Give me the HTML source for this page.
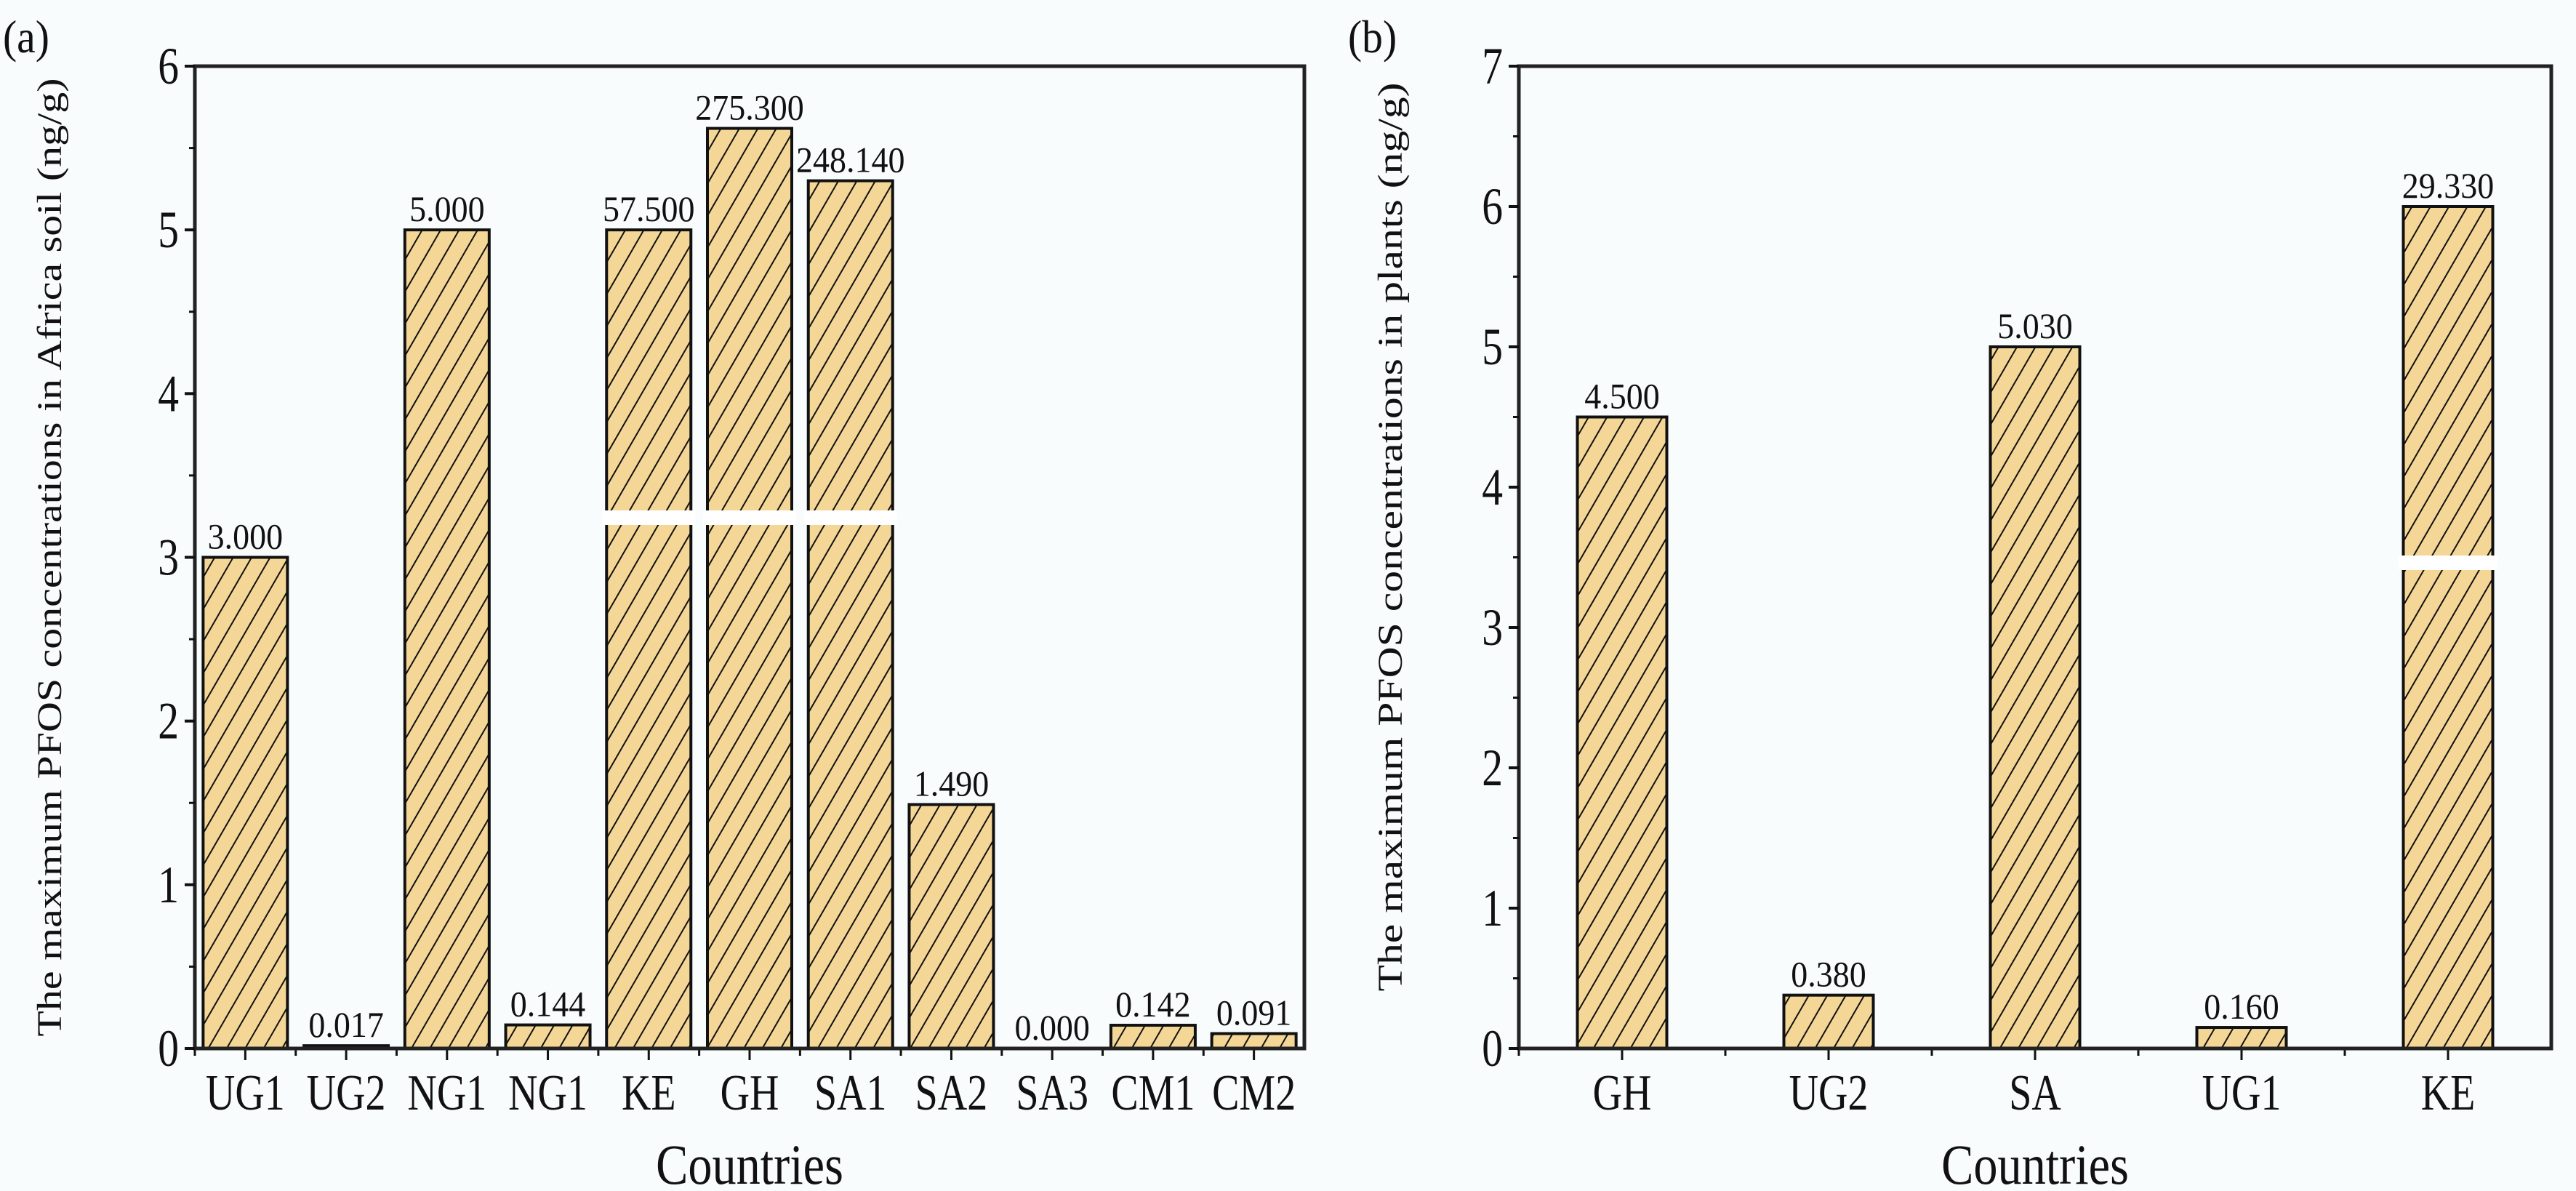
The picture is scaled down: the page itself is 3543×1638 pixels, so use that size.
<!DOCTYPE html>
<html><head><meta charset="utf-8">
<style>
html,body{margin:0;padding:0;background:#f8fcfd;}
svg{display:block;font-family:"Liberation Serif",serif;}
</style></head>
<body>
<svg id="chart" width="3543" height="1638" viewBox="0 0 3543 1638" xmlns="http://www.w3.org/2000/svg">
<defs>
<pattern id="hatch" patternUnits="userSpaceOnUse" width="22" height="22" patternTransform="rotate(30)">
<rect width="22" height="22" fill="#f4d796"/>
<line x1="0" y1="0" x2="0" y2="22" stroke="#111" stroke-width="4"/>
</pattern>
</defs>
<rect x="0" y="0" width="3543" height="1638" fill="#f8fcfd"/>
<g id="root"></g>
</svg>
<script>
// Panel (a) data
const catsA = ["UG1","UG2","NG1","NG1","KE","GH","SA1","SA2","SA3","CM1","CM2"];
const valsA = [3.0, 0.017, 5.0, 0.144, 5.0, 5.62, 5.3, 1.49, 0.0, 0.142, 0.091];
const labelsA = ["3.000","0.017","5.000","0.144","57.500","275.300","248.140","1.490","0.000","0.142","0.091"];
const breaksA = [false,false,false,false,true,true,true,false,false,false,false];
const ticksA = [0,1,2,3,4,5,6];
// Panel (b) data
const catsB = ["GH","UG2","SA","UG1","KE"];
const valsB = [4.5, 0.38, 5.0, 0.15, 6.0];
const labelsB = ["4.500","0.380","5.030","0.160","29.330"];
const breaksB = [false,false,false,false,true];
const ticksB = [0,1,2,3,4,5,6,7];

const NS="http://www.w3.org/2000/svg";
const root=document.getElementById('root');
function mk(tag,attrs,parent){const e=document.createElementNS(NS,tag);for(const k in attrs)e.setAttribute(k,attrs[k]);(parent||root).appendChild(e);return e;}
function txt(parent,x,y,size,anchor,sx,content){
  const t=mk('text',{x:0,y:0,'font-size':size,'text-anchor':anchor,fill:'#111',transform:`translate(${x},${y}) scale(${sx},1)`},parent);
  t.textContent=content;return t;
}

function panel(o){
  const g=mk('g',{});
  
  
  const L=o.left,R=o.right,T=91,B=1442;
  const ymax=o.ticks[o.ticks.length-1];
  const y=v=>B-(v/ymax)*(B-T);
  const n=o.cats.length, step=(R-L)/n;
  const xc=i=>L+step*(i+0.5);
  o.vals.forEach((v,i)=>{
    const bx=xc(i)-o.bw/2, by=y(v), h=B-by;
    const r=mk('rect',{x:bx,y:by,width:o.bw,height:Math.max(h,0),fill:'url(#hatch)',stroke:'#111','stroke-width':4},g);
    
    
    if(o.breaks[i]){
      const br=mk('rect',{x:bx-6,y:o.breakY,width:o.bw+12,height:20,fill:'#ffffff'},g);
      
      
    }
    const t=txt(g,xc(i),by-12,50,'middle',0.92,o.labels[i]);
    
    
    const c=txt(g,xc(i),1526,70,'middle',0.8,o.cats[i]);
    
    
    mk('line',{x1:xc(i),y1:B,x2:xc(i),y2:B+16,stroke:'#111','stroke-width':3},g);
    mk('line',{x1:L+step*i,y1:B,x2:L+step*i,y2:B+10,stroke:'#111','stroke-width':3},g);
  });
  const f=mk('rect',{x:L,y:T,width:R-L,height:B-T,fill:'none',stroke:'#222','stroke-width':5},g);
  
  
  o.ticks.forEach((tv,k)=>{
    mk('line',{x1:L-14,y1:y(tv),x2:L,y2:y(tv),stroke:'#111','stroke-width':4},g);
    if(k<o.ticks.length-1) mk('line',{x1:L-8,y1:y(tv+0.5),x2:L,y2:y(tv+0.5),stroke:'#111','stroke-width':3},g);
    const t=txt(g,L-22,y(tv)+24,72,'end',0.8,String(tv));
    
    
  });
  const yt=mk('text',{x:0,y:0,'font-size':48,'text-anchor':'middle',fill:'#111',textLength:o.ylen,lengthAdjust:'spacingAndGlyphs',transform:`translate(${o.ytx},${(T+B)/2+o.yoff}) rotate(-90)`},g);
  yt.textContent=o.ytitle;
  
  
  const xt=txt(g,(L+R)/2,1628,78,'middle',0.85,'Countries');
  
  
  const pl=txt(g,o.plx,72,64,'start',0.9,o.plabel);
  
  
}
panel({name:'panel-a',left:268,right:1794,cats:catsA,vals:valsA,labels:labelsA,breaks:breaksA,ticks:ticksA,bw:116,breakY:702,ytx:84,yoff:0,ylen:1318,ytitle:'The maximum PFOS concentrations in Africa soil (ng/g)',plx:4,plabel:'(a)'});
panel({name:'panel-b',left:2089,right:3509,cats:catsB,vals:valsB,labels:labelsB,breaks:breaksB,ticks:ticksB,bw:123,breakY:764,ytx:1928,yoff:-28,ylen:1250,ytitle:'The maximum PFOS concentrations in plants (ng/g)',plx:1854,plabel:'(b)'});
</script>
</body></html>
